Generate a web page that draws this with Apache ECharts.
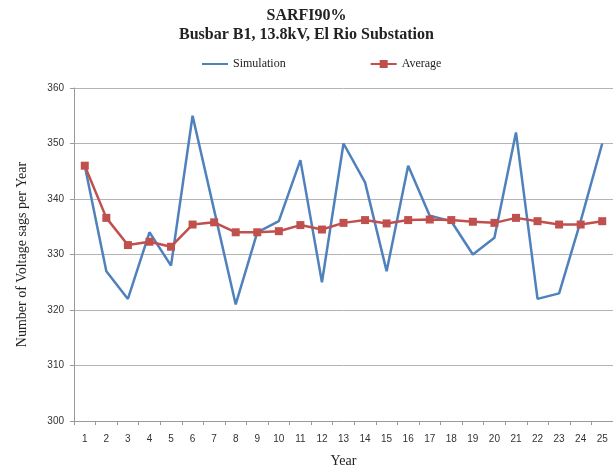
<!DOCTYPE html>
<html>
<head>
<meta charset="utf-8">
<script src="https://cdn.jsdelivr.net/npm/echarts@6/dist/echarts.min.js"></script>
<style>
    html,body{margin:0;padding:0;background:#fff;}
    #chart{width:613px;height:468px;}
</style>
</head>
<body>
<div id="chart"></div>
<script>
var years=['1','2','3','4','5','6','7','8','9','10','11','12','13','14','15','16','17','18','19','20','21','22','23','24','25'];
var simulation=[346,327,322,334,328,355,338,321,334,336,347,325,350,343,327,346,337,336,330,333,352,322,323,336,350];
var average=[346,336.6,331.7,332.3,331.4,335.4,335.8,334,334,334.2,335.3,334.5,335.7,336.2,335.6,336.2,336.3,336.2,335.9,335.7,336.6,336,335.4,335.4,336];

var chart=echarts.init(document.getElementById('chart'));
var serif='"Liberation Serif", "DejaVu Serif", serif';
var sans='"Liberation Sans", "DejaVu Sans", sans-serif';
var option={
    animation:false,
    title:{
        text:'SARFI90%\nBusbar B1, 13.8kV, El Rio Substation',
        left:'center',
        top:1,
        textStyle:{
            fontFamily:serif,
            fontSize:16,
            fontWeight:'bold',
            color:'#222',
            lineHeight:19
        }
    },
    legend:{
        top:53,
        left:196,
        itemWidth:26,
        itemHeight:10,
        itemGap:84,
        textStyle:{fontFamily:serif,fontSize:12,color:'#222'},
        data:[
            {name:'Simulation',itemStyle:{opacity:0}},
            {name:'Average'}
        ]
    },
    grid:{
        left:74,
        right:0,
        top:88,
        bottom:47,
        containLabel:false,
        outerBoundsMode:'none'
    },
    xAxis:{
        type:'category',
        data:years,
        boundaryGap:true,
        name:'Year',
        nameLocation:'middle',
        nameGap:33,
        nameTextStyle:{fontFamily:serif,fontSize:14,color:'#222'},
        axisLine:{lineStyle:{color:'#9a9a9a',width:1}},
        axisTick:{show:true,alignWithLabel:false,length:4,lineStyle:{color:'#9a9a9a'}},
        axisLabel:{fontFamily:sans,fontSize:10,color:'#333',margin:13,interval:0}
    },
    yAxis:{
        type:'value',
        min:300,
        max:360,
        interval:10,
        name:'Number of Voltage sags per Year',
        nameLocation:'middle',
        nameGap:45,
        nameTextStyle:{fontFamily:serif,fontSize:14,color:'#222'},
        axisLine:{show:true,lineStyle:{color:'#9a9a9a',width:1}},
        axisTick:{show:true,length:4,lineStyle:{color:'#9a9a9a'}},
        axisLabel:{fontFamily:sans,fontSize:10,color:'#333',margin:10},
        splitLine:{lineStyle:{color:'#b4b4b4',width:1}}
    },
    series:[
        {
            name:'Simulation',
            type:'line',
            data:simulation,
            symbol:'none',
            lineStyle:{color:'#4f81bd',width:2.5},
            itemStyle:{color:'#4f81bd'}
        },
        {
            name:'Average',
            type:'line',
            data:average,
            symbol:'rect',
            symbolSize:8,
            lineStyle:{color:'#c0504d',width:2.5},
            itemStyle:{color:'#c0504d'}
        }
    ]
};
chart.setOption(option);
</script>
</body>
</html>
